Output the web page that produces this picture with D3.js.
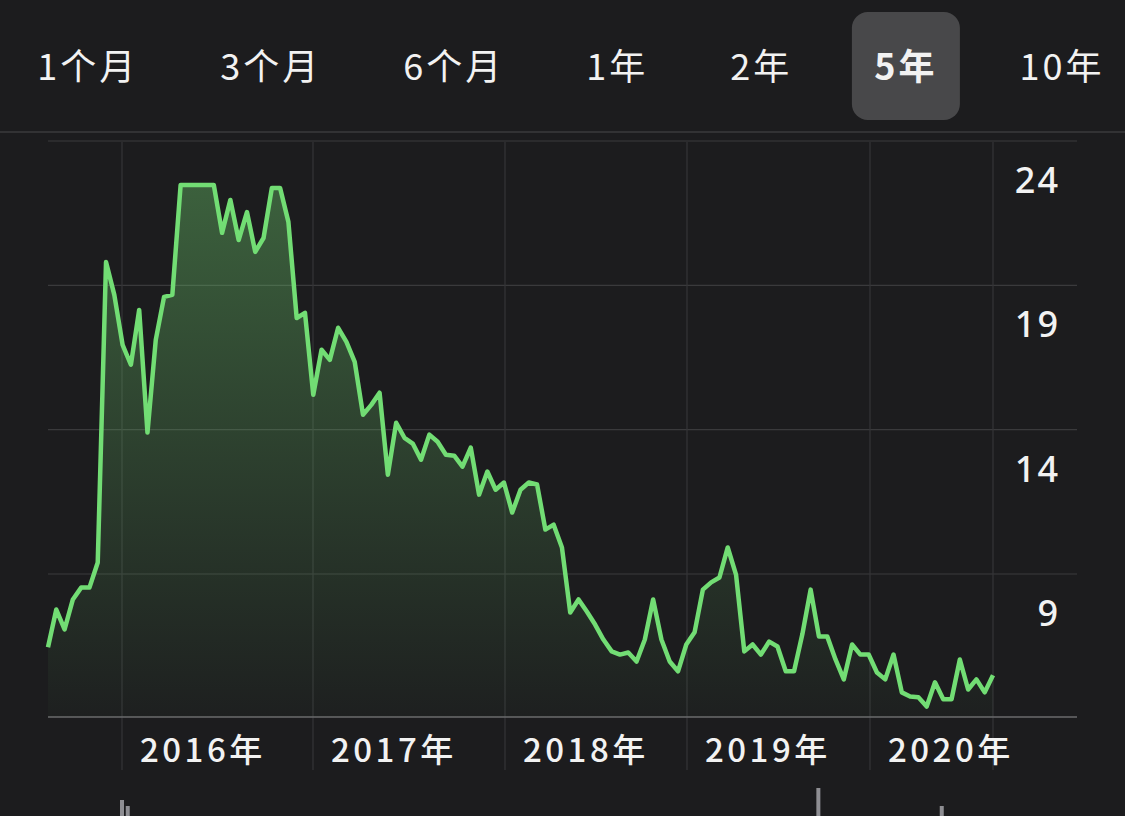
<!DOCTYPE html>
<html><head><meta charset="utf-8">
<script src="https://cdn.jsdelivr.net/npm/d3@7"></script>
<style>html,body{margin:0;background:#1c1c1e;overflow:hidden}</style>
</head><body><svg id="c" width="1125" height="816"></svg>
<script>
const tabs = ["1个月","3个月","6个月","1年","2年","5年","10年"];
const selectedTab = "5年";
const yTicks = [24, 19, 14, 9];
const yearTicks = ["2016","2017","2018","2019","2020"];
const startDate = "2015-08-09", endDate = "2020-08-28";
const values = [7.81,9.12,8.43,9.47,9.88,9.88,10.75,21.16,20.02,18.29,17.60,19.50,15.25,18.46,19.95,20.02,
23.83,23.83,23.83,23.83,23.83,22.17,23.31,21.92,22.89,21.51,21.99,23.72,23.72,22.55,19.22,19.40,16.56,18.12,
17.77,18.88,18.39,17.70,15.87,16.21,16.63,13.79,15.59,15.07,14.87,14.31,15.18,14.93,14.48,14.45,14.07,14.73,
13.10,13.90,13.27,13.52,12.48,13.27,13.52,13.45,11.89,12.06,11.27,9.02,9.47,9.05,8.60,8.08,7.67,7.56,7.63,
7.32,8.08,9.47,8.08,7.32,6.98,7.91,8.33,9.81,10.06,10.23,11.27,10.33,7.67,7.91,7.56,8.01,7.84,6.98,6.98,
8.26,9.81,8.19,8.19,7.39,6.70,7.91,7.56,7.56,6.94,6.70,7.56,6.25,6.11,6.08,5.76,6.60,6.01,6.01,7.39,6.35,
6.70,6.25,6.84];

const svg = d3.select("#c");
const t0 = new Date(startDate), t1 = new Date(endDate);
const yearDates = yearTicks.map(s=>new Date(s+"-01-01"));
// piecewise time scale matching the reference's uneven year widths
const x = d3.scaleTime().domain([t0, ...yearDates, t1]).range([48,122,313,505,687,870,993]);
const pos = d3.scaleLinear().domain([0, values.length-1]).range([48,993]);
const data = values.map((v,i)=>({d: x.invert(pos(i)), v}));
const y = d3.scaleLinear().domain([24,9]).range([180,613]);
const gridOffset = 39;

// tabs laid out by text width with equal gaps
const tabG = svg.append("g");
const tt = tabG.selectAll("text").data(tabs).join("text")
  .attr("y",80).attr("text-anchor","middle")
  .attr("font-family","'Noto Sans CJK SC',sans-serif").attr("font-size",36).attr("letter-spacing",3)
  .attr("font-weight",d=>d===selectedTab?700:400).attr("fill","#f2f2f2").text(d=>d);
const widths = tt.nodes().map(n=>n.getComputedTextLength());
const gap = 82;
const centers = []; let c = 1062;
for (let i=tabs.length-1;i>=0;i--){ centers[i]=c; if(i>0) c -= widths[i]/2 + widths[i-1]/2 + gap; }
tt.attr("x",(d,i)=>centers[i]);
const si = tabs.indexOf(selectedTab);
tabG.insert("rect","text").attr("x",centers[si]-54).attr("y",12).attr("width",108).attr("height",108)
  .attr("rx",16).attr("fill","#48484a");
svg.append("line").attr("x1",0).attr("x2",1125).attr("y1",132).attr("y2",132).attr("stroke","#3a3a3c").attr("stroke-width",1.5);

const g = svg.append("g");
g.selectAll("line.h").data(yTicks).join("line")
  .attr("x1",48).attr("x2",1077).attr("y1",d=>y(d)-gridOffset).attr("y2",d=>y(d)-gridOffset)
  .attr("stroke","#3a3a3c").attr("stroke-width",1.2);
g.selectAll("line.v").data(yearDates.concat([t1])).join("line")
  .attr("x1",d=>x(d)).attr("x2",d=>x(d)).attr("y1",142).attr("y2",770)
  .attr("stroke","#353537").attr("stroke-width",1.2);
svg.append("line").attr("x1",48).attr("x2",1077).attr("y1",717).attr("y2",717).attr("stroke","#6a6a6c").attr("stroke-width",1.5);

const defs = svg.append("defs");
const lg = defs.append("linearGradient").attr("id","gr").attr("x1",0).attr("x2",0).attr("y1",0).attr("y2",1);
lg.append("stop").attr("offset","0%").attr("stop-color","#6fd06f").attr("stop-opacity",0.38);
lg.append("stop").attr("offset","100%").attr("stop-color","#6fd06f").attr("stop-opacity",0.02);
const bottom = 717;
svg.append("path").datum(data).attr("fill","url(#gr)")
  .attr("d",d3.area().x(d=>x(d.d)).y0(bottom).y1(d=>y(d.v)));
svg.append("path").datum(data).attr("fill","none").attr("stroke","#72dd74").attr("stroke-width",4.5)
  .attr("stroke-linejoin","round").attr("d",d3.line().x(d=>x(d.d)).y(d=>y(d.v)));

svg.append("g").selectAll("text").data(yTicks).join("text")
  .attr("x",1060).attr("y",d=>y(d)+13).attr("text-anchor","end")
  .attr("font-family","'Noto Sans',sans-serif").attr("font-size",36).attr("font-weight",500)
  .attr("letter-spacing",2).attr("fill","#f2f2f2").text(d=>d);
svg.append("g").selectAll("text").data(yearTicks).join("text")
  .attr("x",(d,i)=>x(yearDates[i])+18).attr("y",762)
  .attr("font-family","'Noto Sans CJK SC',sans-serif").attr("font-size",33).attr("font-weight",500)
  .attr("letter-spacing",3.5).attr("fill","#f2f2f2").text(d=>d+"年");
const stubs = [{d:"2016-01-01",h:16},{d:"2016-01-12",h:10},{d:"2019-09-20",h:28},{d:"2020-05-20",h:10}];
svg.append("g").selectAll("rect").data(stubs).join("rect")
  .attr("x",s=>x(new Date(s.d))-2).attr("y",s=>816-s.h).attr("width",4).attr("height",s=>s.h).attr("fill","#8e8e93");
</script></body></html>
